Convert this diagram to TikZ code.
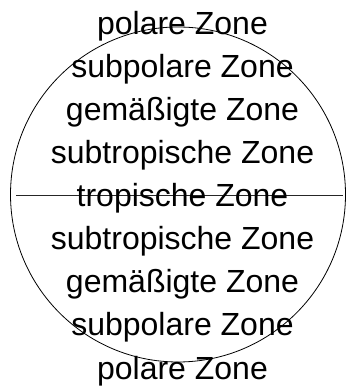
\documentclass[tikz,border=0pt]{standalone}
\usepackage{fontspec}
\setmainfont{Liberation Sans}
\begin{document}
\begin{tikzpicture}[x=1pt,y=1pt,
  zone/.style={anchor=base, inner sep=0pt, font=\fontsize{32}{32}\selectfont},
  outline/.style={draw=black, line width=0.8pt}]
\useasboundingbox (0,0) rectangle (347,387);
% the globe and its equator
\node[circle, outline, minimum size=335pt, inner sep=0pt] (globe) at (178,192.5) {};
\coordinate (eqW) at (16,191);
\coordinate (eqE) at (343,191);
\draw[draw=black!85, line width=1pt] (eqW) -- (eqE);
% climate zones from north to south
\node[zone] (z1) at (182.5,352) {polare Zone};
\node[zone] (z2) at (182.5,309) {subpolare Zone};
\node[zone] (z3) at (182.5,266) {gemäßigte Zone};
\node[zone] (z4) at (182.5,223) {subtropische Zone};
\node[zone] (z5) at (182.5,180) {tropische Zone};
\node[zone] (z6) at (182.5,137) {subtropische Zone};
\node[zone] (z7) at (182.5,94) {gemäßigte Zone};
\node[zone] (z8) at (182.5,51) {subpolare Zone};
\node[zone] (z9) at (182.5,8) {polare Zone};
\end{tikzpicture}
\end{document}
